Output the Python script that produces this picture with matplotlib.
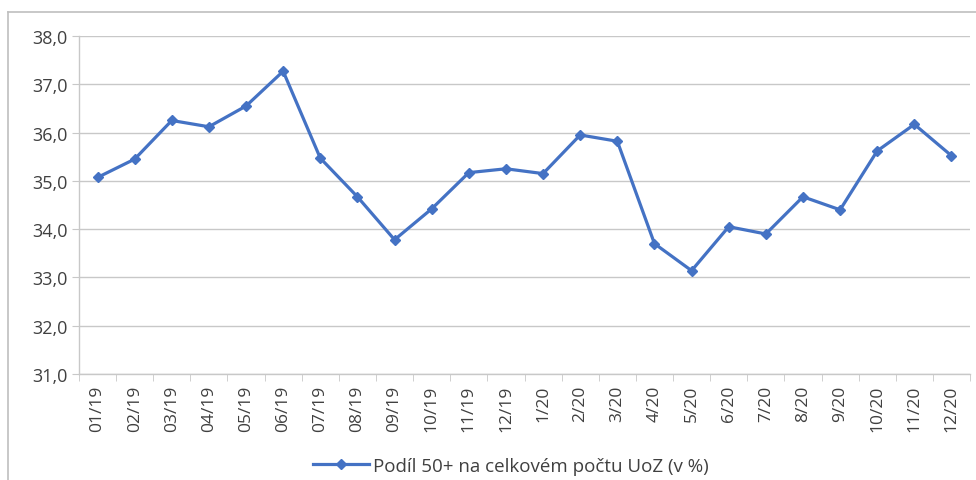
import matplotlib.pyplot as plt
from matplotlib.lines import Line2D
from matplotlib.ticker import FixedLocator, FuncFormatter

plt.rcParams['font.family'] = ['Open Sans', 'DejaVu Sans']

months = ['01/19', '02/19', '03/19', '04/19', '05/19', '06/19', '07/19', '08/19',
          '09/19', '10/19', '11/19', '12/19', '1/20', '2/20', '3/20', '4/20',
          '5/20', '6/20', '7/20', '8/20', '9/20', '10/20', '11/20', '12/20']
share_50plus = [35.07, 35.45, 36.25, 36.12, 36.55, 37.27, 35.47, 34.67,
                33.78, 34.42, 35.17, 35.25, 35.15, 35.95, 35.82, 33.70,
                33.14, 34.05, 33.90, 34.67, 34.40, 35.62, 36.17, 35.52]
series_label = 'Podíl 50+ na celkovém počtu UoZ (v %)'

text_col = '#404040'
grid_col = '#c8c8c8'
blue = '#4472C4'

fig = plt.figure(figsize=(9.76, 4.81), dpi=100)
ax = fig.add_axes([0.0809, 0.2204, 0.9130, 0.7027])

x = list(range(len(months)))
ax.plot(x, share_50plus, color=blue, linewidth=2.3, marker='D', markersize=5,
        label=series_label)

ax.set_xlim(-0.5, len(months) - 0.5)
ax.set_ylim(31, 38)
ax.set_yticks(range(31, 39))
ax.yaxis.set_major_formatter(FuncFormatter(lambda v, p: f'{v:.1f}'.replace('.', ',')))
ax.grid(axis='y', color=grid_col, linewidth=1)
ax.set_axisbelow(True)

ax.set_xticks(x)
ax.set_xticklabels(months, rotation=90, fontsize=12.5, color=text_col)
ax.tick_params(axis='x', which='major', length=0, pad=8)
ax.xaxis.set_minor_locator(FixedLocator([i - 0.5 for i in range(len(months) + 1)]))
ax.tick_params(axis='x', which='minor', length=5, color=grid_col, direction='out')
ax.tick_params(axis='y', length=5, color=grid_col, labelsize=13, labelcolor=text_col, pad=3)

for s in ['top', 'right']:
    ax.spines[s].set_visible(False)
for s in ['left', 'bottom']:
    ax.spines[s].set_color(grid_col)
    ax.spines[s].set_linewidth(1)

fig.legend(handles=[Line2D([], [], color=blue, linewidth=2.3, marker='D', markersize=5)],
           labels=[series_label], loc='center', bbox_to_anchor=(0.523, 0.029),
           frameon=False, fontsize=13.5, labelcolor=text_col, handlelength=3,
           handletextpad=0.2)

# outer chart frame
fig.add_artist(Line2D([0.008, 1.0], [0.973, 0.973], color='#bfbfbf', linewidth=1.2,
                      transform=fig.transFigure))
fig.add_artist(Line2D([0.008, 0.008], [0.0, 0.973], color='#bfbfbf', linewidth=1.2,
                      transform=fig.transFigure))

fig.savefig('out.png', dpi=100)
